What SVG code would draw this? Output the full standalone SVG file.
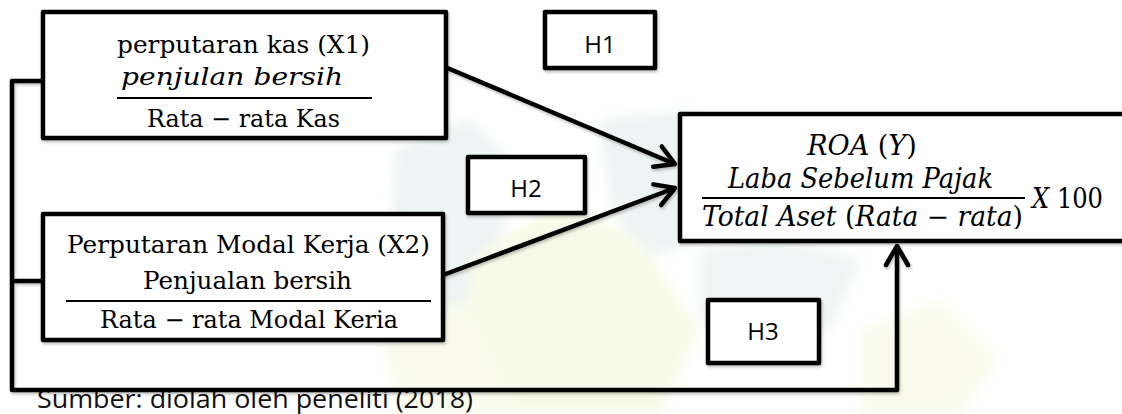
<svg xmlns="http://www.w3.org/2000/svg" width="1122" height="414" viewBox="0 0 1122 414">
  <style>
    .box { fill: #ffffff; stroke: #000000; stroke-width: 4.5; stroke-linejoin: round; }
    .conn { fill: none; stroke: #000000; stroke-width: 4.5; stroke-linejoin: round; stroke-linecap: butt; }
    .frac { stroke: #000000; stroke-width: 2; }
    .serif { font-family: "DejaVu Serif", "Liberation Serif", serif; font-size: 24px; fill: #000000; }
    .math { font-family: "DejaVu Serif", "Liberation Serif", serif; font-size: 27px; fill: #000000; }
    .it { font-style: italic; }
    .hlabel { font-family: "Open Sans", "Liberation Sans", sans-serif; font-size: 24px; fill: #000000; text-anchor: middle; }
    .caption { font-family: "Open Sans", "Liberation Sans", sans-serif; font-size: 26px; fill: #111111; }
  </style>
  <defs>
    <marker id="arrow" markerUnits="userSpaceOnUse" markerWidth="30" markerHeight="30" viewBox="-22 -15 26 30" refX="0" refY="0" orient="auto">
      <path d="M -19,-11 L 0,0 L -19,11" fill="none" stroke="#000000" stroke-width="4.5" stroke-linejoin="round" stroke-linecap="round"/>
    </marker>
    <filter id="shadow" x="-5%" y="-5%" width="110%" height="120%">
      <feDropShadow dx="1" dy="2" stdDeviation="1.5" flood-color="#000000" flood-opacity="0.25"/>
    </filter>
    <filter id="blur" x="-20%" y="-20%" width="140%" height="140%">
      <feGaussianBlur stdDeviation="6"/>
    </filter>
    <clipPath id="roaClip">
      <rect x="682" y="116" width="440" height="113"/>
    </clipPath>
  </defs>

  <rect x="0" y="0" width="1122" height="414" fill="#ffffff"/>

  <!-- faint watermark -->
  <g id="watermark" opacity="0.18" filter="url(#blur)">
    <polygon points="395,150 470,120 520,170 480,300 420,330 390,260" fill="#9fc4c0"/>
    <polygon points="600,120 690,110 700,240 640,260 610,200" fill="#9fc4c0"/>
    <polygon points="470,260 560,200 640,240 700,330 660,414 520,414 470,360" fill="#dde98a"/>
    <polygon points="700,250 780,240 860,260 830,330 760,350 700,320" fill="#a9c8c4"/>
    <polygon points="380,330 470,300 520,414 400,414" fill="#e4ee9e"/>
    <polygon points="860,330 940,300 1000,360 960,414 860,414" fill="#e4ee9e"/>
  </g>

  <g id="caption">
    <text class="caption" x="37" y="408" textLength="436" lengthAdjust="spacingAndGlyphs">Sumber: diolah oleh peneliti (2018)</text>
  </g>

  <g id="connectors" filter="url(#shadow)">
    <path class="conn" d="M 43,81 H 12 V 390 H 897 V 246" marker-end="url(#arrow)"/>
    <path class="conn" d="M 12,281 H 43"/>
    <path class="conn" d="M 445,67 L 675,164" marker-end="url(#arrow)"/>
    <path class="conn" d="M 443,275 L 675,188" marker-end="url(#arrow)"/>
  </g>

  <g id="node-x1">
    <rect class="box" x="43" y="12" width="403" height="126" filter="url(#shadow)"/>
    <text class="serif" x="117" y="53" textLength="253" lengthAdjust="spacingAndGlyphs">perputaran kas (X1)</text>
    <text class="serif it" x="121" y="85" textLength="222" lengthAdjust="spacingAndGlyphs">penjulan bersih</text>
    <line class="frac" x1="117" y1="98" x2="372" y2="98"/>
    <text class="serif" x="147" y="127" textLength="193" lengthAdjust="spacingAndGlyphs">Rata − rata Kas</text>
  </g>

  <g id="node-x2">
    <rect class="box" x="43" y="214" width="400" height="126" filter="url(#shadow)"/>
    <text class="serif" x="67" y="253" textLength="363" lengthAdjust="spacingAndGlyphs">Perputaran Modal Kerja (X2)</text>
    <text class="serif" x="143" y="289" textLength="209" lengthAdjust="spacingAndGlyphs">Penjualan bersih</text>
    <line class="frac" x1="66" y1="301" x2="431" y2="301"/>
    <text class="serif" x="100" y="328" textLength="298" lengthAdjust="spacingAndGlyphs">Rata − rata Modal Keria</text>
  </g>

  <g id="node-roa">
    <rect class="box" x="680" y="114" width="470" height="127" filter="url(#shadow)"/>
    <text class="math" x="862" y="155" font-size="25" text-anchor="middle"><tspan class="it">ROA</tspan> (<tspan class="it">Y</tspan>)</text>
    <text class="math it" x="728" y="188" textLength="265" lengthAdjust="spacingAndGlyphs">Laba Sebelum Pajak</text>
    <line class="frac" x1="702" y1="198" x2="1025" y2="198"/>
    <g clip-path="url(#roaClip)">
      <text class="math" x="702" y="226" textLength="321" lengthAdjust="spacingAndGlyphs"><tspan class="it">Total Aset </tspan>(<tspan class="it">Rata</tspan> − <tspan class="it">rata</tspan>)</text>
    </g>
    <text class="math" x="1032" y="208" textLength="71" lengthAdjust="spacingAndGlyphs"><tspan class="it">X</tspan> 100</text>
  </g>

  <g id="node-h1">
    <rect class="box" x="545" y="12" width="110" height="56" filter="url(#shadow)"/>
    <text class="hlabel" x="600" y="53">H1</text>
  </g>

  <g id="node-h2">
    <rect class="box" x="468" y="157" width="117" height="56" filter="url(#shadow)"/>
    <text class="hlabel" x="526" y="197">H2</text>
  </g>

  <g id="node-h3">
    <rect class="box" x="708" y="300" width="111" height="63" filter="url(#shadow)"/>
    <text class="hlabel" x="763" y="340">H3</text>
  </g>
</svg>
